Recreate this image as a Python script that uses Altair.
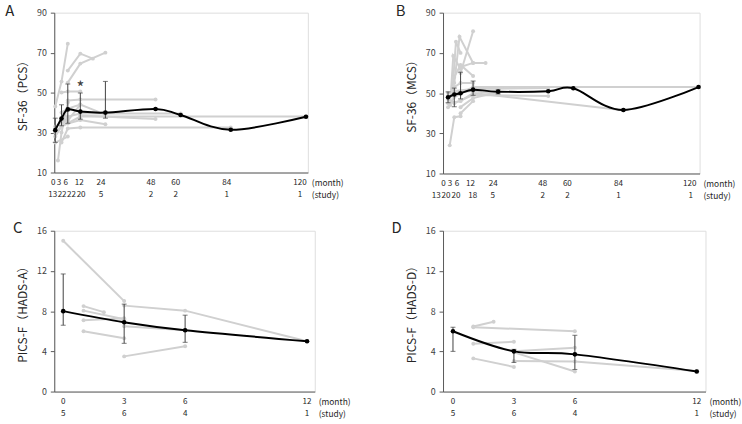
import altair as alt
import pandas as pd

FONT = "Noto Sans CJK JP"
GRAY = "#d0d0d0"
AXIS = "#595959"

# ---------------- Panel A: SF-36 (PCS) ----------------
a_months = [0, 3, 6, 12, 24, 48, 60, 84, 120]
a_mean = [31.2, 37.0, 41.6, 40.5, 40.0, 41.8, 38.8, 31.4, 37.9]
a_err_m = [0, 3, 6, 12, 24]
a_err_lo = [25.1, 33.4, 34.7, 36.7, 37.2]
a_err_hi = [37.2, 43.9, 54.3, 49.8, 55.6]
a_studies = [13, 22, 22, 20, 5, 2, 2, 1, 1]
a_lines = [
    [(0, 43), (3, 55.5), (6, 74.5)],
    [(1.3, 16), (3, 30), (6, 45)],
    [(6, 61), (12, 69.5), (18, 67)],
    [(6, 55), (12, 64.5), (24, 70)],
    [(3, 50), (6, 50.5), (12, 50.5)],
    [(6, 46), (12, 46.5), (48, 46.5)],
    [(0, 28), (6, 38), (12, 39.5), (60, 39.5)],
    [(0, 30), (3, 33), (12, 38), (120, 38)],
    [(3, 25), (6, 32), (12, 32.5), (84, 32.5)],
    [(0, 25), (6, 28)],
    [(12, 38.5), (48, 36.8)],
    [(6, 34.5), (12, 36.3), (24, 34.2)],
    [(0, 33), (3, 35), (6, 36), (12, 44)],
    [(3, 40), (6, 42), (12, 44), (24, 39)],
]

# ---------------- Panel B: SF-36 (MCS) ----------------
b_months = [0, 3, 6, 12, 24, 48, 60, 84, 120]
b_mean = [47.9, 49.3, 49.9, 51.7, 50.7, 50.9, 52.4, 41.6, 53.0]
b_err_m = [0, 3, 6, 12, 24]
b_err_lo = [45.2, 43.2, 47.1, 48.9, 49.6]
b_err_hi = [50.6, 52.5, 60.4, 56.0, 51.6]
b_studies = [13, 20, 20, 18, 5, 2, 2, 1, 1]
b_lines = [
    [(0.8, 24), (3, 38), (6, 38.5)],
    [(1, 44), (2.5, 68.5), (6, 62)],
    [(2, 50), (3.8, 75.5), (6, 70)],
    [(3, 55), (5.5, 78), (12, 65)],
    [(6, 60), (12, 80.8)],
    [(6, 63), (12, 65), (18, 65)],
    [(3, 58), (6, 64), (12, 58.5)],
    [(0, 43), (3, 48), (12, 53), (120, 53)],
    [(0, 45), (6, 46), (12, 50), (84, 41.5)],
    [(0, 47), (3, 45), (12, 49), (48, 48.5)],
    [(3, 51), (12, 52), (48, 52.5)],
    [(6, 40), (12, 46)],
    [(3, 53), (6, 55), (12, 55)],
    [(0, 50), (12, 51), (24, 49.5)],
    [(6, 43), (12, 47.5), (24, 50.5)],
]

# ---------------- Panel C: PICS-F (HADS-A) ----------------
c_months = [0, 3, 6, 12]
c_mean = [8.0, 6.9, 6.1, 5.0]
c_err_m = [0, 3, 6]
c_err_lo = [6.6, 4.8, 4.9]
c_err_hi = [11.7, 8.7, 7.6]
c_studies = [5, 6, 4, 1]
c_lines = [
    [(0, 15), (3, 9)],
    [(1, 8.5), (2, 7.9)],
    [(1, 8.05), (3, 7.2)],
    [(1, 7.1), (3, 7.3)],
    [(1, 6.0), (3, 5.3)],
    [(3, 8.55), (6, 8.05), (12, 5.0)],
    [(3, 3.5), (6, 4.5)],
    [(3, 6.5), (6, 6.1)],
]

# ---------------- Panel D: PICS-F (HADS-D) ----------------
d_months = [0, 3, 6, 12]
d_mean = [6.0, 4.0, 3.7, 2.0]
d_err_m = [0, 3, 6]
d_err_lo = [4.0, 2.9, 2.2]
d_err_hi = [6.4, 4.2, 5.6]
d_studies = [5, 6, 4, 1]
d_lines = [
    [(1, 6.47), (2, 6.95)],
    [(1, 6.4), (6, 6.0)],
    [(1, 4.75), (3, 4.95)],
    [(1, 3.3), (3, 2.45)],
    [(3, 4.0), (6, 4.35)],
    [(3, 3.9), (6, 2.0)],
    [(3, 3.05), (6, 3.0), (12, 2.05)],
]

# pixel nudges for the two label rows under the x axis (dense months spread out)
A_MON_NUDGE = [-2, -2.5, -2, -1, -4.5, -4.5, -5, -4, -6]
A_ST_NUDGE = [-2.5, 0.6, 3.8, 0.8, -4.5, -4.5, -5, -4, -6]
B_MON_NUDGE = [-4.7, -4.4, -3.7, -2.7, -5, -5.6, -6, -5, -9]
B_ST_NUDGE = [-12, -8.4, -4.7, -0.4, -5.5, -5.5, -6, -5, -8]
CD_NUDGE = [0, 0, 0, 0]


def lines_frame(lines):
    rows = []
    for i, pts in enumerate(lines):
        for m, v in pts:
            rows.append({"sid": i, "m": m, "v": v})
    return pd.DataFrame(rows)


def panel(letter, letter_xy, ytitle, months, mean, err_m, err_lo, err_hi,
          studies, lines, xdom, ydom, yticks, width, height,
          mon_nudge, st_nudge, star=None):
    xs = alt.X("m:Q", scale=alt.Scale(domain=xdom, nice=False, zero=False),
               axis=alt.Axis(title=None, labels=False, ticks=False, grid=False,
                             domainColor=AXIS, domainWidth=1))
    ys = alt.Y("v:Q", scale=alt.Scale(domain=ydom, nice=False, zero=False),
               axis=alt.Axis(title=ytitle, values=yticks, grid=False,
                             domainColor=AXIS, tickColor=AXIS, tickSize=4,
                             labelColor="#404040", labelFontSize=9,
                             labelFont=FONT, labelPadding=4,
                             titleFont=FONT, titleFontSize=12,
                             titleFontWeight="normal", titleColor="#262626",
                             titlePadding=7))

    per_px = (xdom[1] - xdom[0]) / width
    gdf = lines_frame(lines)
    mdf = pd.DataFrame({"m": months, "v": mean})
    edf = pd.DataFrame({"m": err_m, "lo": err_lo, "hi": err_hi})
    mon_df = pd.DataFrame({"m": [m + d * per_px for m, d in zip(months, mon_nudge)],
                           "t": [str(x) for x in months]})
    st_df = pd.DataFrame({"m": [m + d * per_px for m, d in zip(months, st_nudge)],
                          "t": [str(s) for s in studies]})

    gray_line = alt.Chart(gdf).mark_line(color=GRAY, strokeWidth=2).encode(
        x=xs, y=ys, detail="sid:N")
    gray_pts = alt.Chart(gdf).mark_point(filled=True, color=GRAY, size=16,
                                         opacity=1).encode(x=xs, y=ys)
    err_rule = alt.Chart(edf).mark_rule(color="#404040", strokeWidth=1).encode(
        x=xs, y=alt.Y("lo:Q"), y2="hi:Q")
    cap_lo = alt.Chart(edf).mark_tick(color="#404040", orient="horizontal",
                                      size=5, thickness=1).encode(
        x=xs, y=alt.Y("lo:Q"))
    cap_hi = alt.Chart(edf).mark_tick(color="#404040", orient="horizontal",
                                      size=5, thickness=1).encode(
        x=xs, y=alt.Y("hi:Q"))
    mean_line = alt.Chart(mdf).mark_line(color="black", strokeWidth=2,
                                         interpolate="cardinal").encode(x=xs, y=ys)
    mean_pts = alt.Chart(mdf).mark_point(filled=True, color="black", size=22,
                                         opacity=1).encode(x=xs, y=ys)
    mon_txt = alt.Chart(mon_df).mark_text(font=FONT, fontSize=8.2,
                                          color="#262626").encode(
        x=xs, y=alt.value(height + 11), text="t:N")
    st_txt = alt.Chart(st_df).mark_text(font=FONT, fontSize=8.2,
                                        color="#262626").encode(
        x=xs, y=alt.value(height + 23), text="t:N")
    unit_df = pd.DataFrame({"t": ["(month)", "(study)"],
                            "yy": [height + 11, height + 23]})
    unit_txt = alt.Chart(unit_df).mark_text(font=FONT, fontSize=8.5,
                                            color="#262626", align="left").encode(
        x=alt.value(width + 4), y=alt.Y("yy:Q", scale=None), text="t:N")
    let_txt = alt.Chart(pd.DataFrame({"t": [letter]})).mark_text(
        font=FONT, fontSize=15, color="#262626").encode(
        x=alt.value(letter_xy[0]), y=alt.value(letter_xy[1]), text="t:N")

    layers = [gray_line, gray_pts, err_rule, cap_lo, cap_hi, mean_line,
              mean_pts, mon_txt, st_txt, unit_txt, let_txt]
    if star is not None:
        sdf = pd.DataFrame({"m": [star[0]], "v": [star[1]], "t": ["*"]})
        layers.append(alt.Chart(sdf).mark_text(font=FONT, fontSize=17,
                                               color="#404040").encode(
            x=xs, y=ys, text="t:N"))
    return alt.layer(*layers).properties(width=width, height=height)


pA = panel("A", (-45, -2), "SF-36（PCS）", a_months, a_mean, a_err_m, a_err_lo,
           a_err_hi, a_studies, a_lines, [-0.47, 120.9], [10, 90],
           [10, 30, 50, 70, 90], 257, 162, A_MON_NUDGE, A_ST_NUDGE,
           star=(12, 52))
pB = panel("B", (-43, -2), "SF-36（MCS）", b_months, b_mean, b_err_m, b_err_lo,
           b_err_hi, b_studies, b_lines, [-2.4, 120.5], [10, 90],
           [10, 30, 50, 70, 90], 260, 163, B_MON_NUDGE, B_ST_NUDGE)
pC = panel("C", (-37, -3), "PICS-F（HADS-A）", c_months, c_mean, c_err_m,
           c_err_lo, c_err_hi, c_studies, c_lines, [-0.44, 12.38], [0, 16],
           [0, 4, 8, 12, 16], 264, 163, CD_NUDGE, CD_NUDGE)
pD = panel("D", (-47, -3), "PICS-F（HADS-D）", d_months, d_mean, d_err_m,
           d_err_lo, d_err_hi, d_studies, d_lines, [-0.49, 12.43], [0, 16],
           [0, 4, 8, 12, 16], 266, 163, CD_NUDGE, CD_NUDGE)

chart = alt.concat(pA, pB, pC, pD, columns=2,
                   spacing={"row": 19, "column": 40}).properties(
    padding={"left": 4, "top": 0, "right": 0, "bottom": 0}
).configure_view(stroke=None).configure(font=FONT)

chart.save("out.html", embed_options={"renderer": "svg", "actions": False})
